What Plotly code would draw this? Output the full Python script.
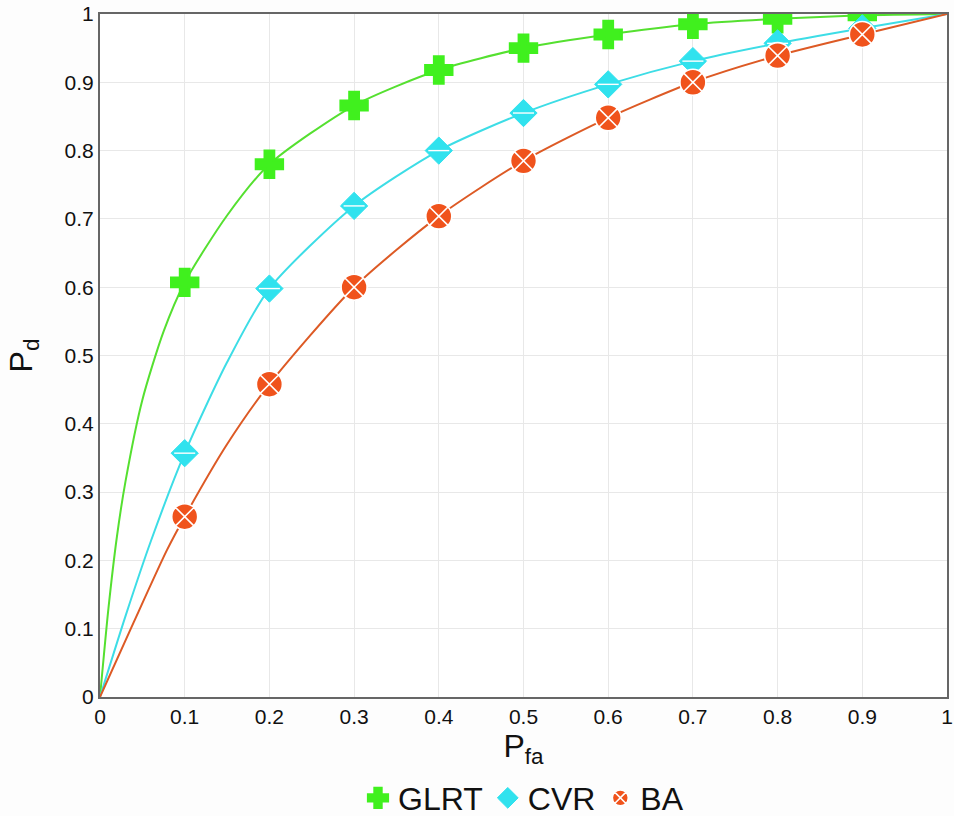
import plotly.graph_objects as go

# Marker points (Pfa = 0.1 ... 0.9)
pfa_marks = [0.1, 0.2, 0.3, 0.4, 0.5, 0.6, 0.7, 0.8, 0.9]
glrt_marks = [0.607, 0.780, 0.866, 0.918, 0.950, 0.970, 0.985, 0.993, 0.998]
cvr_marks = [0.357, 0.598, 0.719, 0.800, 0.855, 0.897, 0.931, 0.957, 0.979]
ba_marks = [0.264, 0.458, 0.600, 0.704, 0.785, 0.848, 0.900, 0.939, 0.970]

# Curve points (including the endpoints)
glrt_line_x = [0, 0.01, 0.02, 0.03, 0.05, 0.075, 0.1, 0.15, 0.2, 0.3, 0.4, 0.5, 0.6, 0.7, 0.8, 0.9, 1.0]
glrt_line_y = [0, 0.13, 0.235, 0.315, 0.435, 0.535, 0.607, 0.705, 0.780, 0.866, 0.918, 0.950, 0.970, 0.985, 0.993, 0.998, 1.0]
cvr_line_x = [0, 0.03, 0.06, 0.1, 0.15, 0.2, 0.3, 0.4, 0.5, 0.6, 0.7, 0.8, 0.9, 1.0]
cvr_line_y = [0, 0.118, 0.228, 0.357, 0.49, 0.598, 0.719, 0.800, 0.855, 0.897, 0.931, 0.957, 0.979, 1.0]
ba_line_x = [0, 0.04, 0.079, 0.1, 0.15, 0.2, 0.3, 0.4, 0.5, 0.6, 0.7, 0.8, 0.9, 1.0]
ba_line_y = [0, 0.11, 0.215, 0.264, 0.37, 0.458, 0.600, 0.704, 0.785, 0.848, 0.900, 0.939, 0.970, 1.0]

GREEN_L, GREEN_M = "#55e030", "#40f01e"
CYAN_L, CYAN_M = "#3ddde6", "#30e2ee"
ORANGE_L, ORANGE_M = "#dd5a25", "#f0531c"

fig = go.Figure()

def add_line(x, y, color):
    fig.add_trace(go.Scatter(x=x, y=y, mode="lines", showlegend=False, hoverinfo="skip",
                             line=dict(color=color, width=2, shape="spline", smoothing=0.7)))

add_line(glrt_line_x, glrt_line_y, GREEN_L)
add_line(cvr_line_x, cvr_line_y, CYAN_L)
add_line(ba_line_x, ba_line_y, ORANGE_L)

fig.add_trace(go.Scatter(x=pfa_marks, y=glrt_marks, mode="markers", name="GLRT",
                         marker=dict(symbol="cross", size=22, color=GREEN_M, line=dict(width=3, color=GREEN_M))))
fig.add_trace(go.Scatter(x=pfa_marks, y=cvr_marks, mode="markers", name="CVR",
                         marker=dict(symbol="diamond", size=21, color=CYAN_M, line=dict(width=1, color=CYAN_M))))
fig.add_trace(go.Scatter(x=pfa_marks, y=cvr_marks, mode="markers", showlegend=False, hoverinfo="skip",
                         marker=dict(symbol="line-ew", size=15, color="white", line=dict(width=1.4, color="white"))))
fig.add_trace(go.Scatter(x=pfa_marks, y=ba_marks, mode="markers", name="BA",
                         marker=dict(symbol="circle-x", size=26, color=ORANGE_M, line=dict(width=1.6, color="white"))))

axis_common = dict(range=[0, 1], dtick=0.1, tick0=0, showgrid=True, gridcolor="#e8e8e8", gridwidth=1,
                   showline=True, linecolor="#666666", linewidth=2, mirror=True, zeroline=False,
                   automargin=False,
                   ticks="", tickfont=dict(family="Liberation Sans, Arial", size=21, color="#111111"))

fig.update_layout(
    width=954, height=816,
    margin=dict(l=100, r=7, t=14, b=119, autoexpand=False),
    paper_bgcolor="#fdfdfd", plot_bgcolor="#ffffff",
    font=dict(family="Liberation Sans, Arial", color="#111111"),
    xaxis=dict(**axis_common,
               title=dict(text="P<sub>fa</sub>", font=dict(size=32), standoff=6)),
    yaxis=dict(**axis_common,
               title=dict(text="P<sub>d</sub>", font=dict(size=32), standoff=22)),
    legend=dict(orientation="h", x=0.5, xanchor="center", yref="container", y=0.022, yanchor="middle",
                font=dict(size=32, color="#111111"), bgcolor="rgba(0,0,0,0)",
                tracegroupgap=0),
)

fig.write_html("out.html")
